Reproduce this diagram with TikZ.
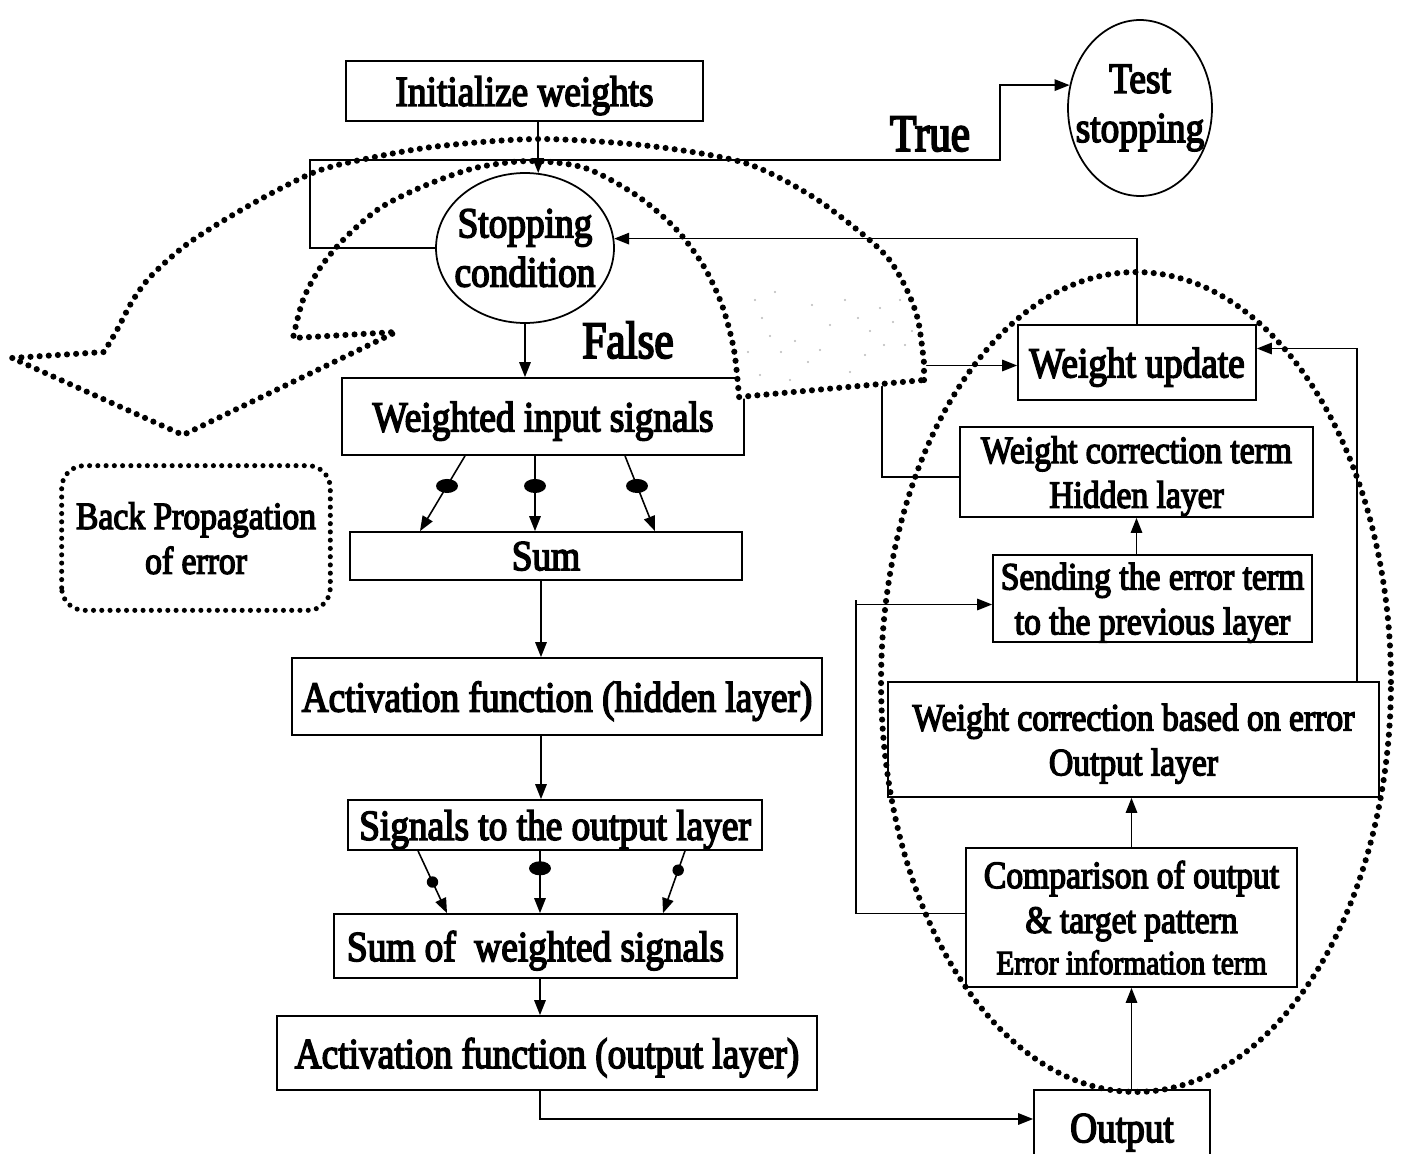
\documentclass[tikz,border=0pt]{standalone}
\usepackage{fontspec}
\setmainfont{Liberation Serif}[FakeStretch=0.87,FakeBold=3.5]
\newfontfamily\tallfont{Liberation Serif}[FakeStretch=0.82,FakeBold=3.5]
\usetikzlibrary{arrows.meta,calc,shapes.geometric}

\newcommand\fmain{\fontsize{24.4pt}{28pt}\selectfont}
\newcommand\fsec{\fontsize{22pt}{25.5pt}\selectfont}
\newcommand\fsmall{\fontsize{19.3pt}{22pt}\selectfont}
\newcommand\fbig{\tallfont\fontsize{30pt}{34pt}\selectfont}

\tikzset{
  box/.style={draw, line width=1pt, rectangle, inner sep=0pt, align=center, font=\fmain, text depth=0pt},
  oval/.style={draw, line width=1pt, ellipse, inner sep=0pt},
  lbl/.style={font=\fmain, align=center, inner sep=0pt},
  arr/.style={line width=0.9pt, -{Triangle[length=8.5pt,width=6.5pt]}},
  bigdots/.style={line width=3.5pt, line cap=round, dash pattern=on 0pt off 5.2pt},
  smalldots/.style={line width=2.9pt, line cap=round, dash pattern=on 0pt off 4.7pt},
  wdot/.style={fill, ellipse, inner sep=0pt, minimum width=12.5pt, minimum height=8pt},
  sdot/.style={fill, circle, inner sep=0pt, minimum size=6.5pt},
}

\begin{document}
\begin{tikzpicture}[x=0.02cm,y=-0.02cm]
\useasboundingbox (0,0) rectangle (1403,1153);
\clip (0,0) rectangle (1403,1153);

% ---------- forward pass (left column) ----------
\node[box, minimum width=7.14cm, minimum height=1.2cm] (init) at (524.5,91) {Initialize weights};
\node[oval, minimum width=2.88cm, minimum height=3.52cm,
      label={[lbl]center:Test\\stopping}] (test) at (1140,108) {};
\node[oval, minimum width=3.56cm, minimum height=3.0cm,
      label={[lbl]center:Stopping\\condition}] (stop) at (525,248) {};
\node[box, minimum width=8.04cm, minimum height=1.54cm] (wis) at (543,416.5) {Weighted input signals};
\node[box, minimum width=7.84cm, minimum height=0.96cm] (sum) at (546,556) {Sum};
\node[box, minimum width=10.6cm, minimum height=1.54cm] (afh) at (557,696.5) {Activation function (hidden layer)};
\node[box, minimum width=8.28cm, minimum height=1.0cm] (sto) at (555,825) {Signals to the output layer};
\node[box, minimum width=8.06cm, minimum height=1.28cm] (sws) at (535.5,946) {Sum of\ \ weighted signals};
\node[box, minimum width=10.8cm, minimum height=1.48cm] (afo) at (547,1053) {Activation function (output layer)};
\node[box, minimum width=3.52cm, minimum height=1.52cm] (out) at (1122,1128) {Output};

% ---------- backward pass (right column) ----------
\node[box, minimum width=4.76cm, minimum height=1.5cm] (wu) at (1137,362.5) {Weight update};
\node[box, font=\fsec, minimum width=7.06cm, minimum height=1.8cm] (wct) at (1136.5,472) {Weight correction term\\Hidden layer};
\node[box, font=\fsec, minimum width=6.38cm, minimum height=1.74cm] (send) at (1152.5,598.5) {Sending the error term\\to the previous layer};
\node[box, font=\fsec, minimum width=9.82cm, minimum height=2.3cm] (wco) at (1133.5,739.5) {Weight correction based on error\\Output layer};
\node[box, font=\fsec, minimum width=6.62cm, minimum height=2.78cm] (comp) at (1131.5,917.5)
  {Comparison of output\\\&\ target pattern\\[-2pt]{\fsmall Error information term}};

% ---------- labels ----------
\node[font=\fbig, inner sep=0pt] (true) at (930,134) {True};
\node[font=\fbig, inner sep=0pt] (false) at (628,340) {False};
\node[font=\fsec, align=center, inner sep=0pt, text depth=0pt, minimum width=5.36cm, minimum height=2.88cm] (bp) at (196,538)
  {Back Propagation\\of error};
\draw[smalldots, rounded corners=0.45cm] (bp.south west) rectangle (bp.north east);

% ---------- connectors ----------
\coordinate (tl) at (310,160);
\coordinate (tr) at (1000,160);
\coordinate (lft) at (856,600);
\coordinate (lft2) at (882,420);
\coordinate (rgt) at (1357,500);

\draw[arr] (init.south -| stop.80) -- (stop.80);
\draw[arr] (stop.west) -| (tl) -- (tr) |- (test.162);
\draw[arr] (stop.south) -- (stop.south |- wis.north);
\draw[arr] (wu.north) |- (stop.6);

\draw[arr] ($(wis.south)+(-78,0)$) -- node[wdot, pos=0.4]{} ($(sum.north)+(-126,0)$);
\draw[arr] ($(wis.south)+(-8,0)$) -- node[wdot, pos=0.4]{} ($(sum.north)+(-11,0)$);
\draw[arr] ($(wis.south)+(82,0)$) -- node[wdot, pos=0.4]{} ($(sum.north)+(109,0)$);

\draw[arr] ($(sum.south)+(-5,0)$) coordinate (s1) -- (s1 |- afh.north);
\draw[arr] ($(afh.south)+(-16,0)$) coordinate (s2) -- (s2 |- sto.north);

\draw[arr] ($(sto.south)+(-137,0)$) -- node[sdot, pos=0.5]{} ($(sws.north)+(-88.5,0)$);
\draw[arr] ($(sto.south)+(-15,0)$) -- node[wdot, pos=0.28]{} ($(sws.north)+(4.5,0)$);
\draw[arr] ($(sto.south)+(130,0)$) -- node[sdot, pos=0.31]{} ($(sws.north)+(127.5,0)$);

\draw[arr] ($(sws.south)+(4.5,0)$) coordinate (s3) -- (s3 |- afo.north);
\draw[arr] ($(afo.south)+(-7,0)$) |- ($(out.west)+(0,-9)$);

\draw[arr] (comp.south |- out.north) -- (comp.south);
\draw[arr] (comp.north) -- (comp.north |- wco.south);
\draw[arr] ($(comp.west)+(0,-4)$) -| (lft) |- ($(send.west)+(0,6)$);
\draw[arr] (send.north -| wct.south) -- (wct.south);
\draw[arr] ($(wct.west)+(0,5)$) -| (lft2) |- ($(wu.west)+(0,3)$);
\draw[arr] (wco.north -| rgt) |- ($(wu.east)+(0,-14)$);

% ---------- erased patch under the tail of the curved arrow ----------
\fill[white] (729,290) -- (736,340) -- (740,399) -- (926,382) -- (926,345) -- (916,300) -- (900,270) -- cycle;
\foreach \p in {(755,300),(762,318),(770,336),(781,352),(795,341),(808,362),(820,350),(760,375),
                (790,380),(845,300),(858,318),(870,331),(880,308),(893,322),(905,345),(884,345),
                (865,355),(850,372),(900,300),(912,331),(775,292),(830,325),(748,352),(812,305)}
  \fill[gray!55] \p circle (0.022cm);

% ---------- dotted outlines ----------
\draw[bigdots] (1136,682) ellipse [x radius=5.1cm, y radius=8.2cm];

\draw[bigdots] (924,380) -- plot[smooth] coordinates {
    (924,363) (918,320) (906,288) (888,258) (860,232) (810,195) (745,163)
    (650,146) (540,139) (440,146) (370,158) (315,172) (250,205) (190,242)
    (152,275) (133,300) (117,330) (104,352)}
  -- (12,358) -- (183,435) -- (396,332) -- (293,338)
  -- plot[smooth] coordinates {
    (293,338) (303,300) (320,268) (345,238) (380,208) (424,186) (475,168)
    (530,161) (585,168) (636,195) (675,228) (703,265) (722,305) (734,350) (739,397)}
  -- cycle;

\end{tikzpicture}
\end{document}
